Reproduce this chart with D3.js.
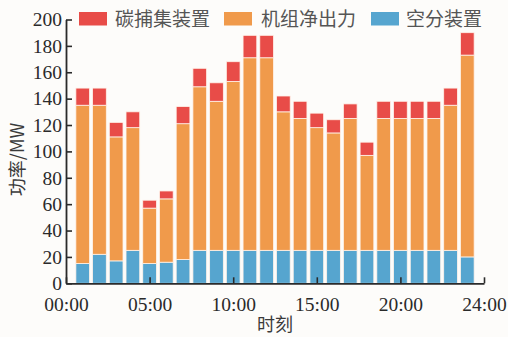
<!DOCTYPE html>
<html>
<head>
<meta charset="utf-8">
<script src="https://cdn.jsdelivr.net/npm/d3@7"></script>
<style>
  html, body { margin: 0; padding: 0; background: #fdfcfa; }
  svg { display: block; }
</style>
</head>
<body>
<svg id="chart" width="508" height="337"></svg>
<script>
// Hourly power breakdown (MW), hours 1..24
const hours = d3.range(1, 25);
const airSeparation = [15, 22, 17, 25, 15, 16, 18, 25, 25, 25, 25, 25, 25, 25, 25, 25, 25, 25, 25, 25, 25, 25, 25, 20];
const netOutput     = [120, 113, 94, 93, 42, 48, 103, 124, 113, 128, 146, 146, 105, 100, 93, 89, 100, 72, 100, 100, 100, 100, 110, 153];
const carbonCapture = [13, 13, 11, 12, 6, 6, 13, 14, 14, 15, 17, 17, 12, 13, 11, 10, 11, 10, 13, 13, 13, 13, 13, 17];

const seriesKeys   = ["airSeparation", "netOutput", "carbonCapture"];
const seriesNames  = ["空分装置", "机组净出力", "碳捕集装置"];
const seriesColors = ["#56a5cf", "#f09a4b", "#e84c48"];

const legendOrder = ["carbonCapture", "netOutput", "airSeparation"];

const xTickValues = [0, 5, 10, 15, 20, 25];
const xTickLabels = ["00:00", "05:00", "10:00", "15:00", "20:00", "24:00"];
const yTickValues = d3.range(0, 201, 20);

const rows = hours.map((h, i) => ({
  hour: h,
  airSeparation: airSeparation[i],
  netOutput: netOutput[i],
  carbonCapture: carbonCapture[i]
}));

const svg = d3.select("#chart");
const margin = { left: 66, right: 24, top: 19.5, bottom: 53.7 };
const W = 508, H = 337;

const x = d3.scaleLinear().domain([0, 25]).range([margin.left, W - margin.right]);
const y = d3.scaleLinear().domain([0, 200]).range([H - margin.bottom, margin.top]);

const step = x(1) - x(0);
const barW = step * 0.82;

const stack = d3.stack().keys(seriesKeys);
const layers = stack(rows);

const colorOf = d3.scaleOrdinal().domain(seriesKeys).range(seriesColors);
const nameOf = d3.scaleOrdinal().domain(seriesKeys).range(seriesNames);

svg.append("g")
  .selectAll("g")
  .data(layers)
  .join("g")
  .attr("fill", d => colorOf(d.key))
  .selectAll("rect")
  .data(d => d)
  .join("rect")
  .attr("x", d => x(d.data.hour) - barW / 2)
  .attr("width", barW)
  .attr("y", d => y(d[1]))
  .attr("height", d => y(d[0]) - y(d[1]))
  .attr("stroke", "#fff3ea")
  .attr("stroke-width", 0.8);

// Axes
const axisColor = "#2a2a2a";
const tickFont = "'Liberation Serif', 'Times New Roman', serif";

const xAxis = d3.axisBottom(x)
  .tickValues(xTickValues)
  .tickFormat((d, i) => xTickLabels[i])
  .tickSizeInner(-6)
  .tickSizeOuter(0)
  .tickPadding(14);

const gx = svg.append("g")
  .attr("transform", `translate(0,${y(0)})`)
  .call(xAxis);

const yAxis = d3.axisLeft(y)
  .tickValues(yTickValues)
  .tickSizeInner(-6)
  .tickSizeOuter(0)
  .tickPadding(4);

const gy = svg.append("g")
  .attr("transform", `translate(${x(0)},0)`)
  .call(yAxis);

[gx, gy].forEach(g => {
  g.select(".domain").attr("stroke", axisColor).attr("stroke-width", 1.8);
  g.selectAll(".tick line").attr("stroke", axisColor).attr("stroke-width", 1.6);
  g.selectAll(".tick text")
    .attr("fill", "#2a2a2a")
    .style("font-family", tickFont)
    .style("font-size", "19.5px");
});

// Axis titles
const cjkFont = "'Noto Sans CJK SC', 'Noto Sans', sans-serif";
svg.append("text")
  .attr("x", (x(0) + x(25)) / 2)
  .attr("y", 331)
  .attr("text-anchor", "middle")
  .attr("fill", "#3a3a3a")
  .style("font-family", cjkFont)
  .style("font-size", "18px")
  .text("时刻");

svg.append("text")
  .attr("transform", `translate(24,${(y(0) + y(200)) / 2 + 8}) rotate(-90)`)
  .attr("text-anchor", "middle")
  .attr("fill", "#3a3a3a")
  .style("font-family", cjkFont)
  .style("font-size", "18px")
  .text("功率/MW");

// Legend
const legendItems = [
  { key: "carbonCapture", sx: 79, tx: 115 },
  { key: "netOutput", sx: 224, tx: 261 },
  { key: "airSeparation", sx: 371, tx: 406 }
];
const lg = svg.append("g");
legendOrder.forEach((k, i) => {
  const it = legendItems[i];
  lg.append("rect")
    .attr("x", it.sx)
    .attr("y", 12)
    .attr("width", 28)
    .attr("height", 13.5)
    .attr("fill", colorOf(k));
  lg.append("text")
    .attr("x", it.tx)
    .attr("y", 26)
    .attr("fill", "#555")
    .style("font-family", cjkFont)
    .style("font-size", "19px")
    .text(nameOf(k));
});
</script>
</body>
</html>
